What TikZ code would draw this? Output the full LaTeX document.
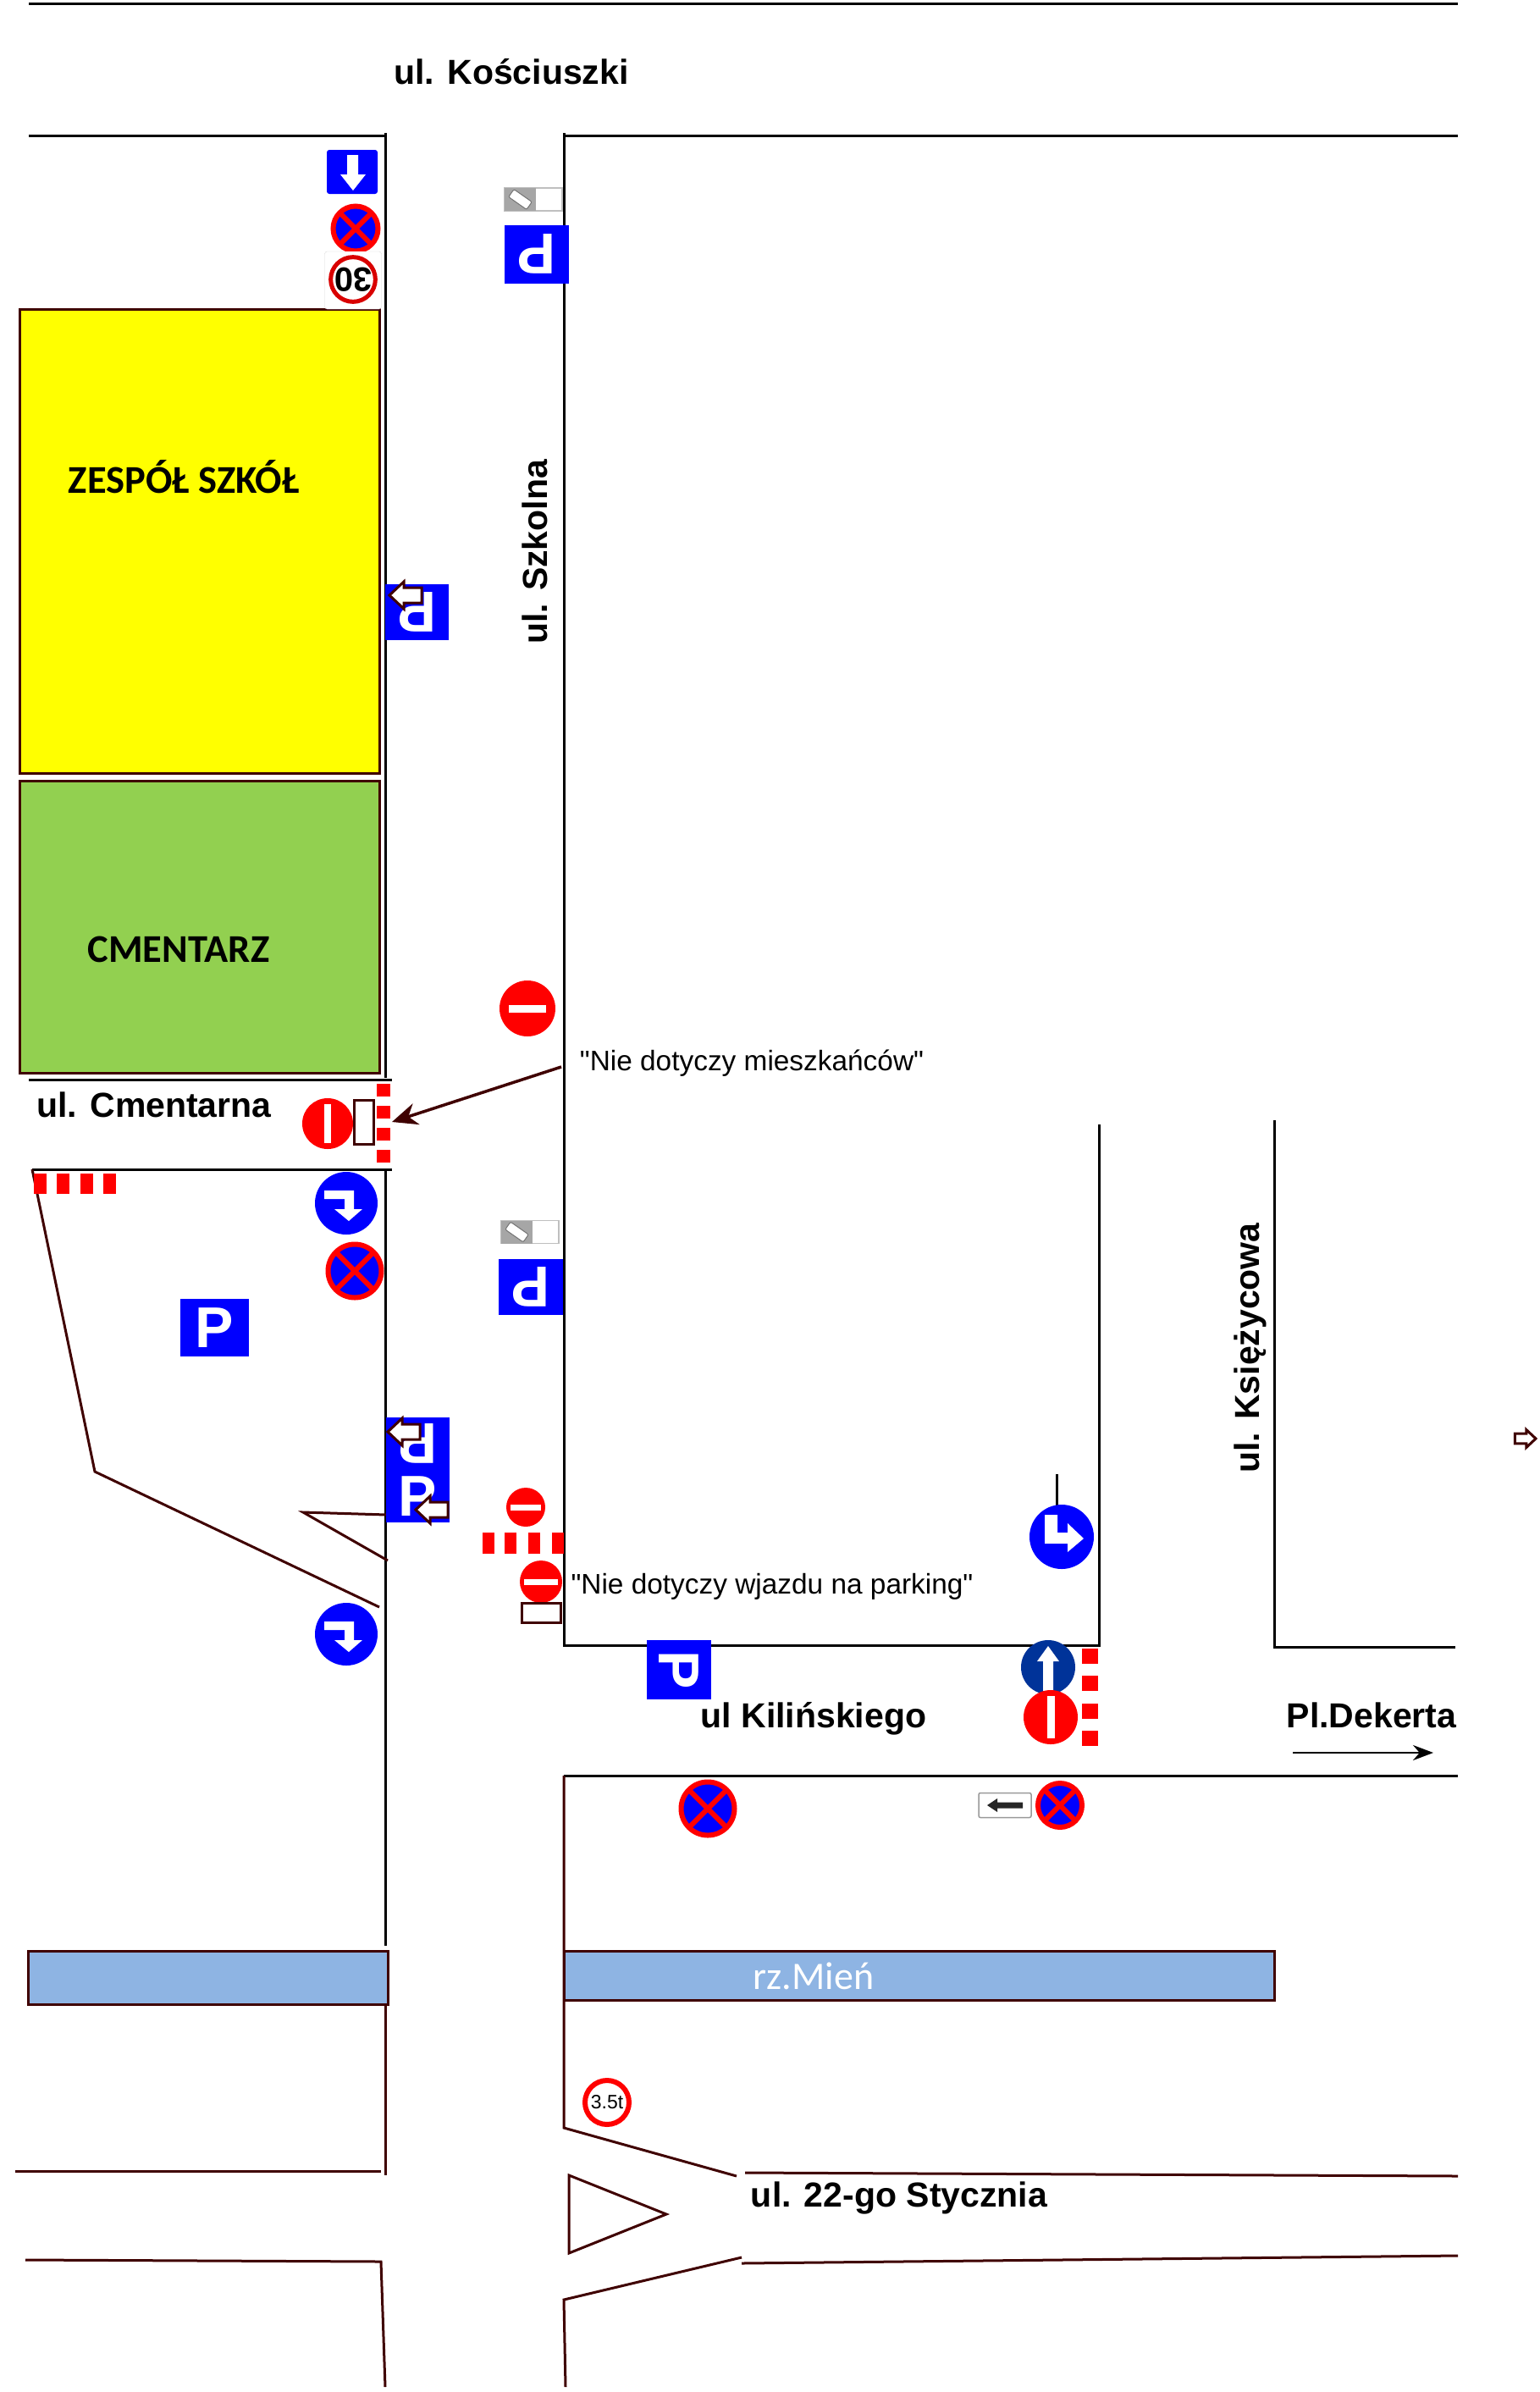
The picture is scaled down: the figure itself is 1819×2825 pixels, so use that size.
\documentclass[tikz,border=0pt]{standalone}
\usepackage{fontspec}
\usepackage{xcolor}
\usetikzlibrary{arrows.meta}
\setmainfont{Liberation Sans}
\newfontfamily\notefamily{Liberation Sans}
\newfontfamily\carlito{Carlito}
\definecolor{kerbred}{HTML}{3F0000}
\definecolor{signred}{HTML}{FF0000}
\definecolor{signblue}{HTML}{0000FF}
\definecolor{navysign}{HTML}{003399}
\definecolor{riverblue}{HTML}{8EB4E3}
\definecolor{gravegreen}{HTML}{92D050}
\definecolor{schoolyellow}{HTML}{FFFF00}
\newcommand{\bigBold}{\fontsize{41}{48}\selectfont\bfseries}
\newcommand{\noteFont}{\notefamily\fontsize{33.4}{40}\selectfont}
\newcommand{\barH}[2]{\textcolor{white}{\rule{#1pt}{#2pt}}}
\newcommand{\carTag}[3]{%
  \node[tagbox] (#1) at (#2,#3) {};
  \node[taggray] (#1-gray) at (#2-15.5,#3) {};
  \node[tagcar] (#1-car) at (#2-15.5,#3) {};}
\tikzset{
  road/.style={line width=3pt,black},
  kerb/.style={line width=3pt,kerbred},
  buildname/.style={font=\carlito\fontsize{46.5}{50}\selectfont\bfseries,inner sep=0pt},
  streetname/.style={font=\bigBold,inner sep=0pt},
  notetext/.style={font=\noteFont,inner sep=0pt},
  psign/.style={rectangle,fill=signblue,text=white,inner sep=0pt,font=\fontsize{68}{68}\selectfont\bfseries},
  nostop/.style={circle,draw=signred,fill=signblue,line width=6pt,inner sep=0pt,minimum size=#1,
    path picture={\draw[signred,line width=6pt] (path picture bounding box.north west) -- (path picture bounding box.south east)
      (path picture bounding box.north east) -- (path picture bounding box.south west);}},
  noentry/.style={circle,fill=signred,inner sep=0pt,minimum size=#1},
  limitsign/.style={circle,draw=signred,fill=white,inner sep=0pt,minimum size=#1},
  tagbox/.style={rectangle,draw=gray!50,fill=white,line width=1.5pt,inner sep=0pt,minimum width=68pt,minimum height=27pt},
  taggray/.style={rectangle,fill=gray!70,inner sep=0pt,minimum width=37pt,minimum height=27pt},
  tagcar/.style={rectangle,draw=gray!90!black,fill=white,rounded corners=2pt,line width=1pt,inner sep=0pt,
    minimum width=26pt,minimum height=11pt,rotate=-35},
  whiteplate/.style={rectangle,draw=kerbred,fill=white,line width=3pt,inner sep=0pt},
  blockarrow/.pic={
    \filldraw[fill=white,draw=kerbred,line width=3pt,line join=miter]
      (0,0) -- (17,-16) -- (17,-9) -- (38,-9) -- (38,9) -- (17,9) -- (17,16) -- cycle;
  },
  turnsign/.pic={
    \node[circle,fill=signblue,inner sep=0pt,minimum size=74pt] (-disc) at (0,0) {};
    \fill[white] (-26,-15) -- (9,-15) -- (9,7) -- (19,7) -- (3,21) -- (-14,7) -- (-2,7) -- (-2,-5) -- (-26,-5) -- cycle;
  },
  cornersign/.pic={
    \node[circle,fill=signblue,inner sep=0pt,minimum size=76pt] (-disc) at (0,0) {};
    \fill[white] (-20,-26) -- (-5,-26) -- (-5,-5) -- (7,-5) -- (7,-16) -- (26,2) -- (7,18) -- (7,8) -- (-20,8) -- cycle;
  }
}

\begin{document}
\begin{tikzpicture}[x=1pt,y=-1pt]
\useasboundingbox (0,0) rectangle (1819,2825);
% buildings and river
\filldraw[fill=schoolyellow,draw=kerbred,line width=3pt] (23,365) rectangle (448,913);
\filldraw[fill=gravegreen,draw=kerbred,line width=3pt] (23,922) rectangle (448,1267);
\filldraw[fill=riverblue,draw=kerbred,line width=3pt] (33,2304) rectangle (458,2367);
\filldraw[fill=riverblue,draw=kerbred,line width=3pt] (666,2304) rectangle (1505,2362);
\node[buildname] (szkola) at (217,563) {ZESPÓŁ SZKÓŁ};
\node[buildname] (cmentarz) at (211,1121) {CMENTARZ};
\node[font=\carlito\fontsize{46}{50}\selectfont,text=white,inner sep=0pt] (rzeka) at (961,2334) {rz.Mień};
% roads
\draw[road] (34,4) -- (1722,4);
\draw[road] (34,160) -- (455,160);
\draw[road] (666,160) -- (1722,160);
\draw[road] (455,157) -- (455,1273);
\draw[road] (455,1381) -- (455,2298);
\draw[road] (34,1275) -- (463,1275);
\draw[road] (38,1381) -- (463,1381);
\draw[road] (666,157) -- (666,1945);
\draw[road] (666,1943) -- (1300,1943);
\draw[road] (1298,1328) -- (1298,1945);
\draw[road] (1248,1741) -- (1248,1782);
\draw[road] (1505,1323) -- (1505,1945) -- (1719,1945);
\draw[road] (666,2097) -- (1722,2097);
\draw[kerb] (666,2097) -- (666,2513) -- (870,2570);
\draw[kerb] (880,2566) -- (1722,2570);
\draw[kerb] (672,2569) -- (787,2615) -- (672,2661) -- cycle;
\draw[kerb] (876,2666) -- (666,2716) -- (668,2819);
\draw[kerb] (876,2673) -- (1722,2664);
\draw[kerb] (18,2564) -- (450,2564);
\draw[kerb] (30,2669) -- (450,2671) -- (455,2819);
\draw[kerb] (455,2367) -- (455,2569);
\draw[kerb] (38,1381) -- (112,1738) -- (448,1898);
\draw[kerb] (457,1789) -- (358,1786) -- (458,1843);
% street names
\node[streetname] (koscius) at (604,85) {ul. Kościuszki};
\node[streetname,rotate=90] (szkolna) at (632,652) {ul. Szkolna};
\node[streetname] (cmentarna) at (182,1305) {ul. Cmentarna};
\node[streetname] (kilin) at (961,2030) {ul Kilińskiego};
\node[streetname,rotate=90] (ksiez) at (1477,1592) {ul. Księżycowa};
\node[streetname] (stycznia) at (1062,2596) {ul. 22-go Stycznia};
\node[streetname] (dekerta) at (1620,2026) {Pl.Dekerta};
\coordinate (dekertaA) at (1527,2070);
\coordinate (dekertaB) at (1693,2070);
\draw[-{Stealth[length=24pt,width=18pt]},line width=2.5pt] (dekertaA) -- (dekertaB);
\node[notetext] (noteA) at (888,1256) {"Nie dotyczy mieszkańców"};
\node[notetext] (noteB) at (912,1874) {"Nie dotyczy wjazdu na parking"};
% signs on ul. Szkolna, top
\node[rectangle,fill=signblue,rounded corners=3pt,inner sep=0pt,minimum width=60pt,minimum height=52pt] (oneway) at (416,203) {};
\fill[white] (410,183) -- (423,183) -- (423,206) -- (432,206) -- (417,225) -- (402,206) -- (410,206) -- cycle;
\node[nostop=53pt] (stopA) at (420,270) {};
\node[rectangle,draw=gray!30,fill=white,rounded corners=3pt,inner sep=0pt,minimum width=67pt,minimum height=68pt] (plate30) at (417,331) {};
\node[limitsign=49pt,draw=red!85!black,line width=5pt,font=\fontsize{40}{40}\selectfont\bfseries,rotate=180] (limit30) at (417,330) {30};
\carTag{tagA}{630}{235.5}
\node[psign,minimum width=76pt,minimum height=69pt,rotate=180] (parkA) at (634,300) {P};
\node[psign,minimum width=75pt,minimum height=66pt,rotate=180] (parkB) at (492.5,723) {P};
\pic at (460,703) {blockarrow};
% ul. Cmentarna
\node[noentry=66pt] (entryA) at (623,1191) {\barH{44}{9}};
\node[noentry=60pt] (entryB) at (387,1327) {\barH{8}{46}};
\node[whiteplate,minimum width=23pt,minimum height=52pt] (plateA) at (430,1325) {};
\foreach \y in {1280,1306,1332,1358}
  \fill[signred] (445,\y) rectangle +(16,15);
\foreach \x in {40,67,95,122}
  \fill[signred] (\x,1386) rectangle +(15,24);
\coordinate (callA) at (663,1260);
\coordinate (callB) at (463,1325);
\draw[-{Stealth[length=30pt,width=26pt]},line width=3.5pt,kerbred] (callA) -- (callB);
% parking
\pic (turnA) at (409,1421) {turnsign};
\node[nostop=63pt] (stopB) at (419,1501) {};
\carTag{tagB}{626}{1455}
\node[psign,minimum width=76pt,minimum height=66pt,rotate=180] (parkC) at (627,1520) {P};
\node[psign,minimum width=81pt,minimum height=68pt] (parkD) at (253,1568) {P};
\node[psign,minimum width=75pt,minimum height=62pt,rotate=180] (parkE) at (493.5,1705) {P};
\node[psign,minimum width=75pt,minimum height=62pt] (parkF) at (493.5,1767) {P};
\pic at (458,1691) {blockarrow};
\pic at (491,1783) {blockarrow};
\node[noentry=46pt] (entryC) at (621,1780) {\barH{36}{7}};
\foreach \x in {570,596,624,652}
  \fill[signred] (\x,1810) rectangle +(14,25);
\node[noentry=50pt] (entryD) at (639,1868) {\barH{40}{7}};
\node[whiteplate,minimum width=46pt,minimum height=23pt] (plateB) at (639,1905) {};
\pic (turnB) at (409,1930) {turnsign};
% ul. Kilinskiego
\pic (turnC) at (1254,1815) {cornersign};
\node[psign,minimum width=70pt,minimum height=76pt,rotate=-90] (parkG) at (802,1972) {P};
\node[circle,fill=navysign,inner sep=0pt,minimum size=64pt] (ahead) at (1238,1969) {};
\fill[white] (1232,1997) -- (1232,1962) -- (1225,1962) -- (1238,1944) -- (1251,1962) -- (1244,1962) -- (1244,1997) -- cycle;
\node[noentry=64pt] (entryE) at (1241,2028) {\barH{9}{50}};
\foreach \y in {1947,1979,2012,2044}
  \fill[signred] (1278,\y) rectangle +(19,18);
\node[nostop=63pt] (stopC) at (836,2136) {};
\node[rectangle,draw=gray!80,fill=white,rounded corners=2pt,line width=1.5pt,inner sep=0pt,minimum width=62pt,minimum height=29pt] (plateC) at (1187,2132) {};
\fill[black!85] (1166,2132) -- (1178,2124) -- (1178,2128.5) -- (1208,2128.5) -- (1208,2135.5) -- (1178,2135.5) -- (1178,2140) -- cycle;
\node[nostop=52pt] (stopD) at (1252,2132) {};
% 3.5 t limit and the small arrow on the margin
\node[limitsign=52pt,line width=6pt,font=\fontsize{23}{23}\selectfont] (limit35) at (717,2483) {3.5t};
\pic[rotate=180,scale=.65] at (1814,1699) {blockarrow};
\end{tikzpicture}
\end{document}
